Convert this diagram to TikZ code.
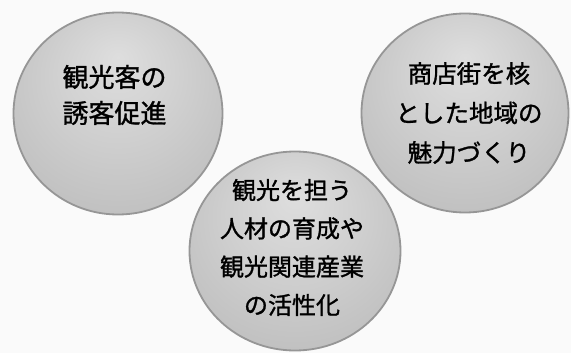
\documentclass[tikz,border=0pt]{standalone}
\usepackage{fontspec}
\usetikzlibrary{shapes.geometric}
\newfontfamily\cjk[FakeBold=1.2]{Noto Sans CJK JP}
\pgfdeclareradialshading{sph}{\pgfpoint{0bp}{14bp}}{%
  color(0bp)=(gray!26);
  color(14bp)=(gray!36);
  color(32bp)=(gray!50);
  color(46bp)=(gray!62);
  color(50bp)=(gray!72)}
\tikzset{
  ball/.style={ellipse, shading=sph, draw=gray!82, line width=1.8pt, inner sep=0pt},
  lbl/.style={align=center, text=black, inner sep=0pt}
}
\begin{document}
\begin{tikzpicture}[x=1pt,y=-1pt]
  \fill[gray!4] (0,0) rectangle (571,353);
  \useasboundingbox (0,0) rectangle (571,353);
  \begin{scope}
    \clip (0,0) rectangle (571,353);
    \node[ball, minimum width=209pt, minimum height=202pt] (b1) at (118,113.5) {};
    \node[ball, minimum width=207pt, minimum height=199pt] (b2) at (465,113) {};
    \node[ball, minimum width=211pt, minimum height=199pt] (b3) at (295,251) {};
  \end{scope}
  \node[lbl, font=\cjk\fontsize{26}{36}\selectfont] (t1) at (114.5,95) {観光客の\\誘客促進};
  \node[lbl, font=\cjk\fontsize{24.5}{39.5}\selectfont] (t2) at (469,113) {商店街を核\\とした地域の\\魅力づくり};
  \node[lbl, font=\cjk\fontsize{24}{38.3}\selectfont] (t3) at (292,247.5) {観光を担う\\人材の育成や\\観光関連産業\\の活性化};
\end{tikzpicture}
\end{document}
